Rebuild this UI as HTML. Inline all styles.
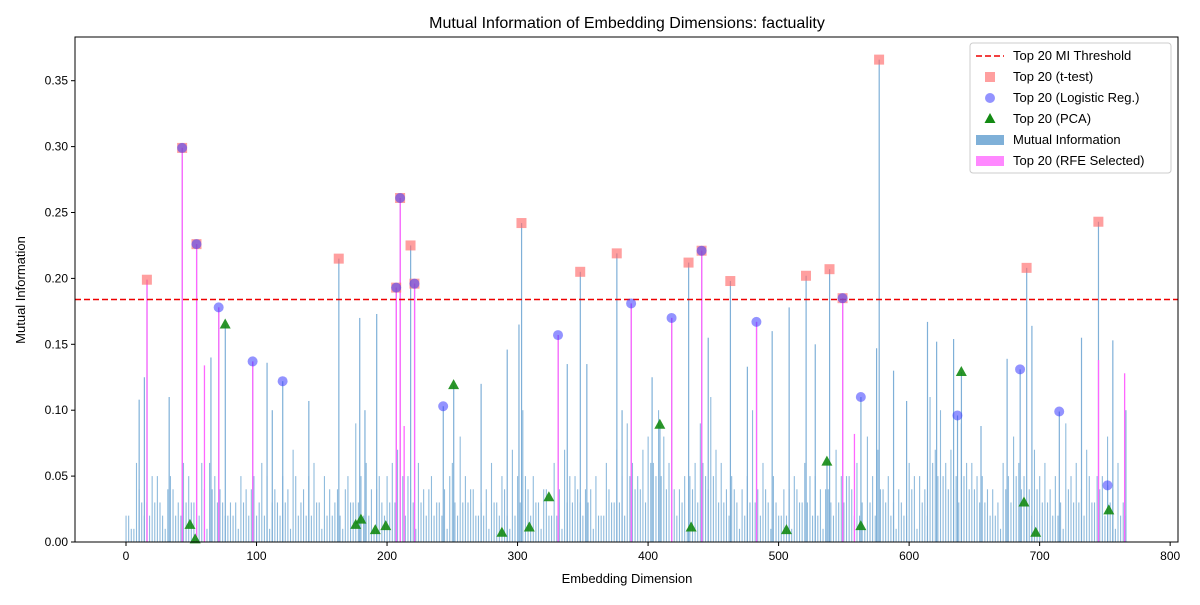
<!DOCTYPE html>
<html><head><meta charset="utf-8">
<style>
body{margin:0;background:#fff;font-family:"Liberation Sans","DejaVu Sans",sans-serif;}
svg text{font-family:"Liberation Sans","DejaVu Sans",sans-serif;}
</style></head>
<body>
<svg id="chart" width="1200" height="600" xmlns="http://www.w3.org/2000/svg">
<text x="627" y="28" text-anchor="middle" font-size="16">Mutual Information of Embedding Dimensions: factuality</text>
<text x="627" y="583" text-anchor="middle" font-size="13">Embedding Dimension</text>
<text x="25" y="290" text-anchor="middle" font-size="13" transform="rotate(-90 25 290)">Mutual Information</text>
<g id="bars"></g><g id="rfe"></g><g id="thr"></g><g id="marks"></g><g id="axes"></g><g id="legend"></g>
</svg>
<script>
// Data
const bgVals = [0.02,0.06,0.03,0.05,0.04,0.03,0.05,0.02,0.06,0.04,0.03,0.05,0.04,0.06,0.03,0.05,0.07,0.04,0.06,0.05,0.03,0.04,0.09,0.06,0.04,0.05,0.07,0.05,0.06,0.04,0.03,0.05,0.08,0.04,0.03,0.06,0.05,0.07,0.1,0.05,0.04,0.06,0.07,0.05,0.04,0.05,0.06,0.07,0.09,0.05,0.08,0.1,0.06,0.04,0.05,0.09,0.11,0.06,0.05,0.04,0.1,0.06,0.05,0.04,0.05,0.06,0.05,0.04,0.07,0.05,0.06,0.08,0.07,0.05,0.04,0.06,0.05,0.11,0.1,0.07,0.09,0.06,0.05,0.04,0.06,0.08,0.05,0.07,0.06,0.05,0.09,0.06,0.07,0.05,0.08,0.06];
const bgVals2 = [0.01,0.03,0.05,0.02,0.04,0.06,0.03,0.04,0.05,0.02,0.03,0.04,0.02,0.05,0.03,0.04,0.02,0.05,0.03,0.04,0.02,0.03,0.05,0.04,0.03,0.06,0.05,0.03,0.04,0.02,0.04,0.03,0.05,0.02,0.04,0.03,0.02,0.05,0.04,0.03,0.02,0.04,0.05,0.03,0.04,0.02,0.03,0.05,0.06,0.07,0.06,0.08,0.04,0.05,0.06,0.05,0.07,0.04,0.03,0.05,0.04,0.03,0.02,0.04,0.03,0.05,0.04,0.03,0.05,0.04,0.03,0.05,0.04,0.03,0.02,0.05,0.04,0.07,0.06,0.05,0.06,0.05,0.04,0.03,0.05,0.06,0.04,0.05,0.04,0.03,0.05,0.04,0.03,0.05,0.04,0.03];
const bgVals3 = [0.02,0.04,0.02,0.03,0.05,0.02,0.03,0.06,0.04,0.03,0.02,0.03,0.05,0.02,0.04,0.03,0.05,0.02,0.03,0.02,0.04,0.05,0.03,0.02,0.05,0.03,0.02,0.04,0.03,0.05,0.02,0.06,0.03,0.04,0.02,0.03,0.04,0.02,0.05,0.03,0.04,0.02,0.03,0.04,0.03,0.02,0.04,0.03,0.05,0.04,0.06,0.05,0.04,0.03,0.04,0.06,0.05,0.03,0.04,0.02,0.03,0.04,0.03,0.02,0.04,0.03,0.02,0.04,0.03,0.05,0.02,0.03,0.04,0.02,0.03,0.04,0.03,0.06,0.05,0.04,0.05,0.04,0.03,0.02,0.04,0.05,0.03,0.04,0.03,0.02,0.04,0.03,0.05,0.04,0.03,0.02];
const bgVals4 = [0.01,0.02,0.03,0.01,0.02,0.03,0.02,0.01,0.03,0.02,0.01,0.02,0.03,0.01,0.02,0.01,0.03,0.02,0.01,0.02,0.01,0.03,0.02,0.01,0.02,0.03,0.02,0.01,0.02,0.03,0.01,0.02,0.03,0.02,0.01,0.02,0.01,0.03,0.02,0.01,0.02,0.01,0.03,0.02,0.01,0.02,0.03,0.02,0.04,0.03,0.05,0.04,0.02,0.01,0.03,0.04,0.03,0.02,0.01,0.03,0.02,0.01,0.02,0.01,0.03,0.02,0.01,0.02,0.03,0.02,0.01,0.02,0.03,0.01,0.02,0.01,0.02,0.05,0.04,0.03,0.04,0.03,0.02,0.01,0.03,0.04,0.02,0.03,0.02,0.01,0.03,0.02,0.03,0.02,0.01,0.02];
const peakDims = [10,14,33,65,108,112,140,163,179,183,192,218,272,292,301,303,338,348,353,376,380,403,431,446,463,476,495,508,521,528,539,575,577,588,598,614,621,634,655,675,690,694,732,745,756,766,16,43,54,71,97,120,207,210,221,243,331,387,418,441,483,549,563,637,685,715,752,76,251,409,537,640];
const peakVals = [0.108,0.125,0.11,0.14,0.136,0.1,0.107,0.215,0.17,0.1,0.173,0.225,0.12,0.146,0.165,0.242,0.135,0.205,0.135,0.219,0.1,0.125,0.212,0.155,0.198,0.133,0.16,0.178,0.202,0.15,0.207,0.147,0.366,0.13,0.107,0.167,0.152,0.154,0.088,0.139,0.208,0.164,0.155,0.243,0.153,0.1,0.199,0.299,0.226,0.178,0.137,0.122,0.193,0.261,0.196,0.103,0.157,0.181,0.17,0.221,0.167,0.185,0.11,0.096,0.131,0.099,0.043,0.165,0.119,0.089,0.061,0.129];
const rfeDims = [16,43,54,60,71,97,207,210,213,221,331,387,418,441,483,549,558,745,765];
const rfeVals = [0.199,0.299,0.226,0.134,0.178,0.137,0.193,0.261,0.088,0.196,0.157,0.181,0.17,0.221,0.167,0.185,0.082,0.138,0.128];
const ttDims = [16,43,54,163,207,210,218,221,303,348,376,431,441,463,521,539,549,577,690,745];
const ttVals = [0.199,0.299,0.226,0.215,0.193,0.261,0.225,0.196,0.242,0.205,0.219,0.212,0.221,0.198,0.202,0.207,0.185,0.366,0.208,0.243];
const lrDims = [43,54,71,97,120,207,210,221,243,331,387,418,441,483,549,563,637,685,715,752];
const lrVals = [0.299,0.226,0.178,0.137,0.122,0.193,0.261,0.196,0.103,0.157,0.181,0.17,0.221,0.167,0.185,0.11,0.096,0.131,0.099,0.043];
const pcaDims = [49,53,76,176,180,191,199,251,288,309,324,409,433,506,537,563,640,688,697,753];
const pcaVals = [0.013,0.002,0.165,0.013,0.017,0.009,0.012,0.119,0.007,0.011,0.034,0.089,0.011,0.009,0.061,0.012,0.129,0.030,0.007,0.024];
const threshold = 0.184;
const xTicks = [0,100,200,300,400,500,600,700,800];
const yTicks = [0,0.05,0.1,0.15,0.2,0.25,0.3,0.35];

const L=75,R=1178,T=37,B=542;
const x = d => 126 + d*1.3052;
const y = v => 542 - v*1318;
const NS="http://www.w3.org/2000/svg";
function mk(tag, parent, attrs){const e=document.createElementNS(NS,tag);for(const k in attrs)e.setAttribute(k,attrs[k]);document.getElementById(parent).appendChild(e);return e;}

function bgSeries(vals, offset){
  vals.forEach((v,i)=>{const d=i*8+offset;const e=mk('rect','bars',{x:x(d)-0.5,y:y(v),width:1.1,height:B-y(v),fill:'#8fbbdd'});
  
  });
}
bgSeries(bgVals,0);bgSeries(bgVals2,4);bgSeries(bgVals3,2);bgSeries(bgVals4,6);
peakDims.forEach((d,i)=>{const e=mk('rect','bars',{x:x(d)-0.5,y:y(peakVals[i]),width:1.2,height:B-y(peakVals[i]),fill:'#7fb0d8'});

});
rfeDims.forEach((d,i)=>{const e=mk('rect','rfe',{x:x(d)-0.5,y:y(rfeVals[i]),width:1.3,height:B-y(rfeVals[i]),fill:'#ff66ff'});

});
const tl=mk('line','thr',{x1:L,x2:R,y1:y(threshold),y2:y(threshold),stroke:'#e00',"stroke-width":1.6,"stroke-dasharray":"6,3"});


ttDims.forEach((d,i)=>{const e=mk('rect','marks',{x:x(d)-5,y:y(ttVals[i])-5,width:10,height:10,fill:'#ff6b6b','fill-opacity':0.65});

});
lrDims.forEach((d,i)=>{const e=mk('circle','marks',{cx:x(d),cy:y(lrVals[i]),r:5,fill:'#3a3aff','fill-opacity':0.55});

});
pcaDims.forEach((d,i)=>{const cx=x(d),cy=y(pcaVals[i]);const e=mk('polygon','marks',{points:`${cx},${cy-6} ${cx-5.5},${cy+4} ${cx+5.5},${cy+4}`,fill:'#138a13','fill-opacity':0.9});

});

const fr=mk('rect','axes',{x:L,y:T,width:R-L,height:B-T,fill:'none',stroke:'#000','stroke-width':1});


xTicks.forEach(t=>{mk('line','axes',{x1:x(t),x2:x(t),y1:B,y2:B+4,stroke:'#000'});
const e=mk('text','axes',{x:x(t),y:B+18,'text-anchor':'middle','font-size':12});e.textContent=t;

});
yTicks.forEach(t=>{mk('line','axes',{x1:L-4,x2:L,y1:y(t),y2:y(t),stroke:'#000'});
const e=mk('text','axes',{x:L-7,y:y(t)+4,'text-anchor':'end','font-size':12});e.textContent=t.toFixed(2);

});

// legend
const lg=mk('rect','legend',{x:970,y:43,width:201,height:130,rx:3,fill:'#fff','fill-opacity':0.85,stroke:'#ccc'});


const items=[['line','Top 20 MI Threshold'],['sq','Top 20 (t-test)'],['ci','Top 20 (Logistic Reg.)'],['tr','Top 20 (PCA)'],['mi','Mutual Information'],['rf','Top 20 (RFE Selected)']];
items.forEach((it,i)=>{const cy=56+i*21;
if(it[0]=='line')mk('line','legend',{x1:976,x2:1004,y1:cy,y2:cy,stroke:'#e00','stroke-width':1.6,'stroke-dasharray':'6,3'});
if(it[0]=='sq')mk('rect','legend',{x:985,y:cy-5,width:10,height:10,fill:'#ff6b6b','fill-opacity':0.65});
if(it[0]=='ci')mk('circle','legend',{cx:990,cy:cy,r:5,fill:'#3a3aff','fill-opacity':0.55});
if(it[0]=='tr')mk('polygon','legend',{points:`990,${cy-6} 984.5,${cy+4} 995.5,${cy+4}`,fill:'#138a13'});
if(it[0]=='mi')mk('rect','legend',{x:976,y:cy-5,width:28,height:10,fill:'#7fb0d8'});
if(it[0]=='rf')mk('rect','legend',{x:976,y:cy-5,width:28,height:10,fill:'#ff88ff'});
const e=mk('text','legend',{x:1013,y:cy+4,'font-size':13});e.textContent=it[1];

});
</script>
</body></html>
